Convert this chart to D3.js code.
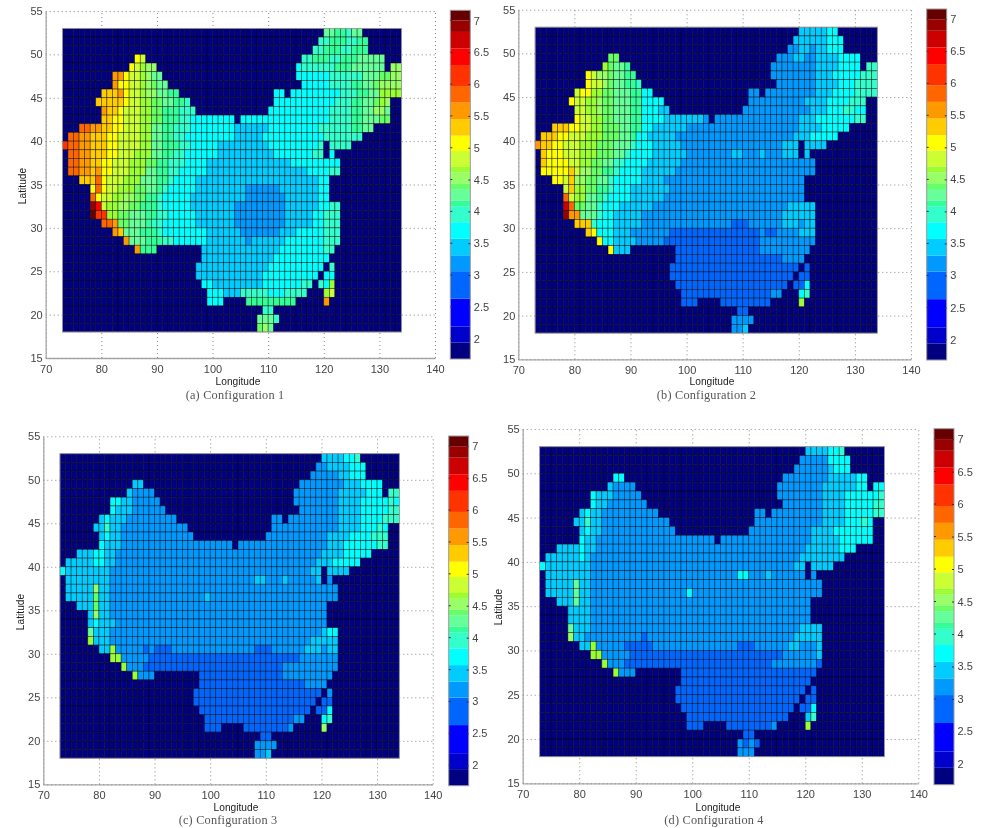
<!DOCTYPE html>
<html>
<head>
<meta charset="utf-8">
<script src="https://d3js.org/d3.v7.min.js"></script>
<style>
  body { margin: 0; background: #fff; }
  svg { display: block; filter: blur(0.45px); }
  .tick text { font-family: "Liberation Sans", Arial, sans-serif; font-size: 11px; fill: #444; }
  .axis-label { font-family: "Liberation Sans", Arial, sans-serif; font-size: 10.2px; fill: #222; text-anchor: middle; }
  .caption { font-family: "Liberation Serif", serif; font-size: 12.3px; fill: #555; text-anchor: middle; letter-spacing: 0.2px; }
</style>
</head>
<body>
<div id="chart"></div>
<script>
// colorbar bands, low to high
var bandEdges = [1.68, 1.94, 2.19, 2.63, 3.06, 3.31, 3.57, 3.83, 4.08, 4.17, 4.35, 4.44, 4.61, 4.70, 4.95, 5.19, 5.45, 5.71, 5.97, 6.30, 6.56, 6.82, 7.0, 7.16];
var bandColors = ["#000080", "#0000cc", "#0000ff", "#0066ff", "#0099ff", "#00ccff", "#00ffff", "#33ffcc", "#33ff99", "#66ff99", "#66ff66", "#99ff66", "#99ff33", "#ccff33", "#ffff00", "#ffcc00", "#ff9900", "#ff6600", "#ff3300", "#ff0000", "#cc0000", "#990000", "#660000"];
var colorbarTicks = [2, 2.5, 3, 3.5, 4, 4.5, 5, 5.5, 6, 6.5, 7];
var lonTicks = [70, 80, 90, 100, 110, 120, 130, 140];
var latTicks = [15, 20, 25, 30, 35, 40, 45, 50, 55];

var lons = d3.range(73, 134);
var lats = d3.range(52, 17, -1);
var outsideValue = 1.8;

// land cells per row, lat 52 down to lat 18, as "first-last" lon runs
var landRuns = [
  "120-126", "119-127", "118-127", "86-87 116-130", "85-89 115-130 132-133",
  "82-90 115-133", "82-91 116-133", "80-93 111-112 114-133", "79-95 111-131", "80-96 110-131",
  "80-103 105-131", "76-128", "74-126", "73-119 121-124", "74-119 121-121",
  "74-122", "74-122", "76-120", "78-120", "78-120",
  "78-122", "78-122", "80-122", "82-122", "84-122",
  "86-89 98-121", "98-120", "97-119 121-121", "97-118 120-121", "98-117 119-121",
  "99-116 120-121", "99-101 106-114 120-120", "109-110", "108-111", "108-110"
];

// each row: "lon value lon value ..", a value holds until the next lon
var config1 = [
  "120 4.25 122 4.1 124 3.95 125 4.25",
  "119 3.95 121 4.1 124 3.95 126 4.1",
  "118 3.95 120 4.1 123 3.95 125 4.1",
  "86 5.05 87 4.8 116 3.95 118 4.1 121 3.95 123 4.1 126 4.25",
  "85 5.05 86 4.8 87 4.65 88 4.5 115 3.7 116 3.95 122 4.1 125 4.25 132 4.5",
  "82 5.6 84 5.05 85 4.8 87 4.65 88 4.5 89 4.25 115 3.7 121 3.95 127 4.25 130 4.4 132 4.5",
  "82 5.6 83 5.05 85 4.8 87 4.65 88 4.5 89 4.4 90 4.25 116 3.7 121 3.95 125 4.1 127 4.25 129 4.4 130 4.5",
  "80 5.3 83 5.6 84 5.05 85 4.8 87 4.65 88 4.5 90 4.25 92 4.1 111 3.7 123 3.95 126 4.1 128 4.25 130 4.65",
  "79 5.3 84 5.05 85 4.8 87 4.65 89 4.4 91 4.25 93 4.1 95 3.95 111 3.7 122 3.95 125 4.1 127 4.25 129 4.4 130 4.65 131 4.5",
  "80 5.6 81 5.3 83 5.05 84 4.8 87 4.65 89 4.4 91 4.1 94 3.95 110 3.7 121 3.95 125 4.1 127 4.25 129 4.5 131 4.25",
  "80 5.3 82 5.05 84 4.8 87 4.65 89 4.4 91 4.1 94 3.95 96 3.7 121 3.95 125 4.1 127 4.25 130 4.4",
  "76 5.85 78 5.6 80 5.3 82 5.05 84 4.8 87 4.65 89 4.25 91 4.1 93 3.95 96 3.7 104 3.45 110 3.7 119 3.95 125 4.1 127 4.25",
  "74 5.85 76 5.6 78 5.3 81 5.05 83 4.8 87 4.65 89 4.25 91 4.1 93 3.95 95 3.7 104 3.45 109 3.7 120 3.95",
  "73 6.1 74 5.85 76 5.6 78 5.3 81 5.05 83 4.8 87 4.65 89 4.25 91 4.1 94 3.95 96 3.7 101 3.45 110 3.7 119 3.95",
  "74 5.85 76 5.6 78 5.3 81 5.05 83 4.8 86 4.65 89 4.25 91 4.1 93 3.95 95 3.7 101 3.45 111 3.7 118 3.95 121 3.7",
  "74 5.85 76 5.6 78 5.3 80 5.05 82 4.8 85 4.65 88 4.4 90 4.1 92 3.95 95 3.7 99 3.45 114 3.7",
  "74 5.85 76 5.6 78 5.3 79 5.6 80 5.05 82 4.8 85 4.65 88 4.25 90 4.1 92 3.95 94 3.7 99 3.45 117 3.7 121 3.95",
  "76 5.3 79 5.85 80 5.05 81 4.8 84 4.65 87 4.25 90 4.1 92 3.95 93 3.7 97 3.45 119 3.7",
  "78 5.05 79 5.85 80 5.05 81 4.8 83 4.65 86 4.4 88 4.25 90 4.1 91 3.95 92 3.7 97 3.45 106 3.2 112 3.45 119 3.7",
  "78 5.85 79 5.05 80 4.8 82 4.65 84 4.5 86 4.4 88 4.1 90 3.95 91 3.7 96 3.45 106 3.2 113 3.45 119 3.7",
  "78 6.9 79 6.4 80 4.8 81 4.65 83 4.5 85 4.4 87 4.1 90 3.95 91 3.7 96 3.45 104 3.2 113 3.45 119 3.7 121 3.95",
  "78 7.1 79 6.1 81 4.65 83 4.4 85 4.25 88 4.1 90 3.95 92 3.7 97 3.45 104 3.2 113 3.45 118 3.7 120 3.95",
  "80 5.85 82 5.6 83 4.4 85 4.25 88 4.1 89 3.95 91 3.7 97 3.45 104 3.2 113 3.45 118 3.7 120 3.95",
  "82 5.6 83 5.3 84 4.25 87 4.1 90 3.95 91 3.7 99 3.45 105 3.2 112 3.45 115 3.7 120 3.95",
  "84 5.6 85 4.25 88 4.1 91 3.95 93 3.7 99 3.45 106 3.2 107 3.45 113 3.7 120 3.95",
  "86 5.6 87 4.1 98 3.45 112 3.7 120 3.95",
  "98 3.45 111 3.7",
  "97 3.45 110 3.7 121 3.95",
  "97 3.45 109 3.7",
  "98 3.7 100 3.45 109 3.7 116 3.95 119 3.95 120 3.7 121 4.65",
  "99 3.7 102 3.45 105 3.95 110 3.7 113 3.95 120 4.65 121 4.8",
  "99 3.7 106 4.1 120 5.6",
  "109 3.95",
  "108 4.25 111 3.95",
  "108 4.4 109 4.5 110 4.25"
];

var config2 = [
  "120 3.45 125 3.7",
  "119 3.45 125 3.7",
  "118 3.2 120 3.45 122 3.2 123 3.45 125 3.7",
  "86 4.4 116 3.2 119 3.45 121 3.2 123 3.45 127 3.7",
  "85 4.65 86 4.4 87 4.25 89 4.1 115 3.2 123 3.45 127 3.7 132 3.95",
  "82 5.05 83 4.8 84 4.5 86 4.4 87 4.25 89 4.1 115 3.2 123 3.45 126 3.7 131 3.95",
  "82 5.05 83 4.8 85 4.5 86 4.4 87 4.25 89 4.1 91 3.95 116 3.2 123 3.45 127 3.7 130 3.95",
  "80 4.8 81 5.05 83 4.65 85 4.4 87 4.25 90 4.1 92 3.7 111 3.2 123 3.45 126 3.7 130 3.95",
  "79 5.05 80 4.8 82 4.65 84 4.5 85 4.4 87 4.25 90 4.1 92 3.7 111 3.2 121 3.45 125 3.7 129 3.95",
  "80 4.8 82 4.65 84 4.5 85 4.4 87 4.25 90 4.1 92 3.7 95 3.45 110 3.2 122 3.45 125 3.7 128 3.95 130 3.7",
  "80 5.05 81 4.8 83 4.65 85 4.4 87 4.25 90 4.1 92 3.7 96 3.45 103 3.2 120 3.45 123 3.7 130 3.95",
  "76 5.3 79 5.05 81 4.8 83 4.65 85 4.4 88 4.25 90 4.1 92 3.7 94 3.45 100 3.2 120 3.45 124 3.7",
  "74 5.3 77 5.05 79 4.8 82 4.65 85 4.4 88 4.25 90 4.1 91 3.7 93 3.45 98 3.2 119 3.45 122 3.7",
  "73 5.6 74 5.3 76 5.05 78 4.8 81 4.65 84 4.4 87 4.25 90 3.95 91 3.7 94 3.45 99 3.2 117 3.45",
  "74 5.3 75 5.05 78 4.8 81 4.65 84 4.4 87 4.25 89 3.95 90 3.7 94 3.45 100 3.2 108 3.45 110 3.2 113 3.45 114 3.2 117 3.45",
  "74 5.3 75 5.05 79 4.8 81 4.65 83 4.4 85 4.25 87 3.95 89 3.7 93 3.45 99 3.2",
  "74 5.05 79 5.3 80 4.8 81 4.5 83 4.4 85 4.1 87 3.95 88 3.7 92 3.45 98 3.2",
  "76 5.05 78 4.8 79 5.3 80 4.5 82 4.4 84 4.25 86 3.95 87 3.7 92 3.45 96 3.2",
  "78 4.8 79 5.3 80 4.65 82 4.4 84 4.1 86 3.95 87 3.7 90 3.45 97 3.2",
  "78 5.85 79 4.8 80 4.65 82 4.25 84 4.1 85 3.95 86 3.7 90 3.45 96 3.2",
  "78 6.7 79 5.85 80 4.4 82 4.25 84 3.95 85 3.7 88 3.45 94 3.2 118 3.45",
  "78 6.9 79 5.6 81 4.25 84 3.95 85 3.7 87 3.45 92 3.2 117 3.45",
  "80 5.3 83 3.95 84 3.7 87 3.45 92 3.2 108 2.85 111 3.2 117 3.45 120 3.2 121 3.45",
  "82 5.3 83 5.05 84 3.7 87 3.45 90 3.2 97 2.85 113 3.2 114 2.85 116 3.2 120 3.45",
  "84 5.05 85 3.7 87 3.45 91 3.2 96 2.85 113 3.2",
  "86 5.05 87 3.45 98 2.85 113 3.2",
  "98 2.85 117 3.2",
  "97 2.85 118 2.85",
  "97 2.85",
  "98 2.85 121 3.7",
  "99 2.85 115 3.2 120 3.7 121 3.95",
  "99 2.85 120 4.65",
  "109 2.85",
  "108 3.2",
  "108 3.2 110 3.45"
];

var config3 = [
  "120 3.45 124 3.7 126 3.95",
  "119 3.2 121 3.45 125 3.7",
  "118 3.2 123 3.45 125 3.7",
  "86 3.45 116 3.2 124 3.45 127 3.7",
  "85 3.45 86 3.2 115 3.2 123 3.45 128 3.7 132 3.95",
  "82 3.7 84 3.45 86 3.2 115 3.2 123 3.45 127 3.7 132 3.95 133 3.7",
  "82 3.7 83 3.45 86 3.2 116 3.2 123 3.45 127 3.7 132 3.95",
  "80 3.45 81 3.7 82 3.45 85 3.2 111 3.2 123 3.45 127 3.7 131 3.95",
  "79 3.45 81 3.95 82 3.45 84 3.2 111 3.2 123 3.45 127 3.7 130 3.95 131 3.7",
  "80 3.45 81 3.7 82 3.45 84 3.2 110 3.2 121 3.45 125 3.7 129 3.95",
  "80 3.7 81 3.45 84 3.2 105 3.2 121 3.45 124 3.7 130 3.95",
  "76 3.45 79 3.7 81 3.45 83 3.2 120 3.45 124 3.7",
  "74 3.45 79 3.7 81 3.45 83 3.2 119 3.45 122 3.7",
  "73 3.7 74 3.45 82 3.2 118 3.45",
  "74 3.45 82 3.2 108 3.45 110 3.2 113 3.45 114 3.2 119 3.45 121 3.2",
  "74 3.45 79 4.5 80 3.45 82 3.2",
  "74 3.45 79 4.4 80 3.45 82 3.2 99 3.45 100 3.2",
  "76 3.45 79 4.4 80 3.45 82 3.2",
  "78 3.45 79 4.5 80 3.45 82 3.2",
  "78 3.45 79 3.7 80 3.45 83 3.2",
  "78 4.25 79 3.45 82 3.2 120 3.45 121 3.7",
  "78 4.65 79 3.45 82 3.2 118 3.45",
  "80 3.45 82 4.65 83 3.2 88 2.85 89 3.2 90 2.85 93 3.2 108 2.85 111 3.2 117 3.45 120 3.2 121 3.45",
  "82 4.65 84 3.2 89 2.85 116 3.2",
  "84 4.65 85 3.2 88 2.85 113 3.2",
  "86 4.65 87 3.2 98 2.85 113 3.2",
  "98 2.85 117 3.2",
  "97 2.85 121 3.2",
  "97 2.85",
  "98 2.85 121 3.7",
  "99 2.85 115 3.2 120 3.7 121 3.95",
  "99 2.85 114 3.2 120 4.5",
  "109 2.85",
  "108 3.2",
  "108 3.2 110 3.45"
];

var config4 = [
  "120 3.45 124 3.7 126 3.95",
  "119 3.2 124 3.7",
  "118 3.2 124 3.45 125 3.7",
  "86 3.7 116 3.2 124 3.45 129 3.7",
  "85 3.45 86 3.2 115 3.2 123 3.45 129 3.7",
  "82 3.7 83 3.45 86 3.2 115 3.2 123 3.45 127 3.7 133 3.95",
  "82 3.7 83 3.45 85 3.2 116 3.2 123 3.45 127 3.7 132 3.95",
  "80 3.45 81 3.7 82 3.45 84 3.2 111 3.2 123 3.45 127 3.7 132 3.95",
  "79 3.45 81 3.95 82 3.45 84 3.2 111 3.2 123 3.45 127 3.7 130 3.95 131 3.7",
  "80 3.45 81 3.7 82 3.45 84 3.2 110 3.2 121 3.45 125 3.7",
  "80 3.7 81 3.45 83 3.2 121 3.45 126 3.7",
  "76 3.45 80 3.7 81 3.45 83 3.2 120 3.45 126 3.7",
  "74 3.45 80 3.7 81 3.45 82 3.2 119 3.45",
  "73 3.7 74 3.45 82 3.2 118 3.45",
  "74 3.45 82 3.2 108 3.7 110 3.2 113 3.45 114 3.2",
  "74 3.45 79 4.25 80 3.45 82 3.2",
  "74 3.45 79 4.25 80 3.45 82 3.2 99 3.7 100 3.2",
  "76 3.45 79 4.25 80 3.45 82 3.2",
  "78 3.45 82 3.2",
  "78 3.45 82 3.2",
  "78 4.25 79 3.45 82 3.2 119 3.45",
  "78 4.5 79 3.45 81 3.2 91 2.85 92 3.2 118 3.45",
  "80 3.45 82 4.65 83 3.2 88 2.85 93 3.2 108 2.85 111 3.2 117 3.45 119 3.2 122 3.45",
  "82 4.65 84 3.2 89 2.85 116 3.2 122 3.45",
  "84 4.65 85 3.2 88 2.85 114 3.2 122 2.85",
  "86 4.65 87 3.2 98 2.85",
  "98 2.85",
  "97 2.85",
  "97 2.85",
  "98 2.85 121 3.7",
  "99 2.85 120 3.45 121 3.95",
  "99 2.85 114 3.2 120 4.65",
  "109 2.85",
  "108 3.2 109 2.85 110 3.2 111 2.85",
  "108 3.2"
];

var configs = [config1, config2, config3, config4];
var captions = ["(a) Configuration 1", "(b) Configuration 2", "(c) Configuration 3", "(d) Configuration 4"];

var width = 983, height = 828;

// frame of each plot on the page
var frames = [
  { left: 45.7, right: 435, top: 11, bottom: 358, barLeft: 450.3, barTop: 10.3, barBottom: 359, latX: 22, latY: 186, labelX: 238, labelY: 385, capX: 235, capY: 399 },
  { left: 518.3, right: 911, top: 9.7, bottom: 359.3, barLeft: 926.7, barTop: 9, barBottom: 360, latX: null, labelX: 712, labelY: 385, capX: 706.5, capY: 399 },
  { left: 43.3, right: 432.7, top: 436.3, bottom: 784.3, barLeft: 448.7, barTop: 436, barBottom: 785.7, latX: 20, latY: 612, labelX: 236, labelY: 811, capX: 228, capY: 824 },
  { left: 522.7, right: 918.3, top: 429, bottom: 783.3, barLeft: 934, barTop: 428.7, barBottom: 784.7, latX: 498, latY: 607, labelX: 718, labelY: 811, capX: 714, capY: 824 }
];

var colorScale = d3.scaleThreshold().domain(bandEdges.slice(1, -1)).range(bandColors);

function parseRuns(row) {
  return row.split(" ").map(function (run) {
    var parts = run.split("-");
    return [+parts[0], +parts[1]];
  });
}

function isLand(rowIndex, lon) {
  return parseRuns(landRuns[rowIndex]).some(function (run) {
    return lon >= run[0] && lon <= run[1];
  });
}

function valueAt(config, rowIndex, lon) {
  if (!isLand(rowIndex, lon)) return outsideValue;
  var parts = config[rowIndex].split(" ").map(Number);
  var value = parts[1];
  for (var i = 0; i < parts.length; i += 2) {
    if (parts[i] <= lon) value = parts[i + 1];
  }
  return value;
}

var svg = d3.select("#chart")
  .append("svg")
  .attr("width", width)
  .attr("height", height);

frames.forEach(function (f, k) {
  var g = svg.append("g");
  var x = d3.scaleLinear().domain([70, 140]).range([f.left, f.right]);
  var y = d3.scaleLinear().domain([15, 55]).range([f.bottom, f.top]);

  // axes with dotted grid, the solid edge is only bottom and left
  var xAxis = g.append("g")
    .attr("transform", "translate(0," + f.bottom + ")")
    .call(d3.axisBottom(x).tickValues(lonTicks).tickFormat(d3.format("d")).tickSizeInner(f.top - f.bottom).tickSizeOuter(0).tickPadding(5));
  var yAxis = g.append("g")
    .attr("transform", "translate(" + f.left + ",0)")
    .call(d3.axisLeft(y).tickValues(latTicks).tickFormat(d3.format("d")).tickSizeInner(f.left - f.right).tickSizeOuter(0).tickPadding(3));
  xAxis.selectAll(".tick text").attr("dy", "0.9em").attr("y", 5);
  yAxis.selectAll(".tick text").attr("x", -3);
  [xAxis, yAxis].forEach(function (axis) {
    axis.select(".domain").attr("stroke", "#aaa").attr("stroke-width", 1.3);
    axis.selectAll(".tick line").attr("stroke", "#888").attr("stroke-dasharray", "1,3");
  });

  // cells
  var cells = [];
  lats.forEach(function (lat, rowIndex) {
    lons.forEach(function (lon) {
      cells.push({ lat: lat, lon: lon, value: valueAt(configs[k], rowIndex, lon) });
    });
  });

  g.append("g").selectAll("rect")
    .data(cells)
    .enter().append("rect")
    .attr("x", function (d) { return x(d.lon); })
    .attr("y", function (d) { return y(d.lat + 1); })
    .attr("width", x(1) - x(0))
    .attr("height", y(0) - y(1))
    .attr("fill", function (d) { return colorScale(d.value); })
    .attr("stroke", "#000")
    .attr("stroke-opacity", 0.7)
    .attr("stroke-width", 0.6);

  g.append("rect")
    .attr("x", x(73))
    .attr("y", y(53))
    .attr("width", x(134) - x(73))
    .attr("height", y(18) - y(53))
    .attr("fill", "none")
    .attr("stroke", "#aaa")
    .attr("stroke-width", 0.8);

  // colorbar
  var barY = d3.scaleLinear().domain([bandEdges[0], bandEdges[bandEdges.length - 1]]).range([f.barBottom, f.barTop]);
  var barWidth = 20;
  var bar = g.append("g");
  bar.selectAll("rect")
    .data(bandColors)
    .enter().append("rect")
    .attr("x", f.barLeft)
    .attr("y", function (d, i) { return barY(bandEdges[i + 1]); })
    .attr("width", barWidth)
    .attr("height", function (d, i) { return barY(bandEdges[i]) - barY(bandEdges[i + 1]); })
    .attr("fill", function (d) { return d; });
  bar.append("rect")
    .attr("x", f.barLeft)
    .attr("y", f.barTop)
    .attr("width", barWidth)
    .attr("height", f.barBottom - f.barTop)
    .attr("fill", "none")
    .attr("stroke", "#999")
    .attr("stroke-width", 1);
  var barAxis = bar.append("g")
    .attr("transform", "translate(" + (f.barLeft + barWidth) + ",0)")
    .call(d3.axisRight(barY).tickValues(colorbarTicks).tickFormat(d3.format("")).tickSize(-2).tickPadding(5));
  barAxis.select(".domain").remove();
  barAxis.selectAll(".tick line").attr("stroke", "#333");
  barAxis.selectAll(".tick text").attr("x", 3.5);
  bar.selectAll(".left-tick")
    .data(colorbarTicks)
    .enter().append("line")
    .attr("class", "left-tick")
    .attr("x1", f.barLeft)
    .attr("x2", f.barLeft + 2)
    .attr("y1", function (d) { return barY(d); })
    .attr("y2", function (d) { return barY(d); })
    .attr("stroke", "#333");

  // labels
  g.append("text")
    .attr("class", "axis-label")
    .attr("x", f.labelX)
    .attr("y", f.labelY)
    .text("Longitude");
  if (f.latX !== null) {
    g.append("text")
      .attr("class", "axis-label")
      .attr("transform", "translate(" + (f.latX + 4) + "," + f.latY + ") rotate(-90)")
      .text("Latitude");
  }
  g.append("text")
    .attr("class", "caption")
    .attr("x", f.capX)
    .attr("y", f.capY)
    .text(captions[k]);
});
</script>
</body>
</html>
